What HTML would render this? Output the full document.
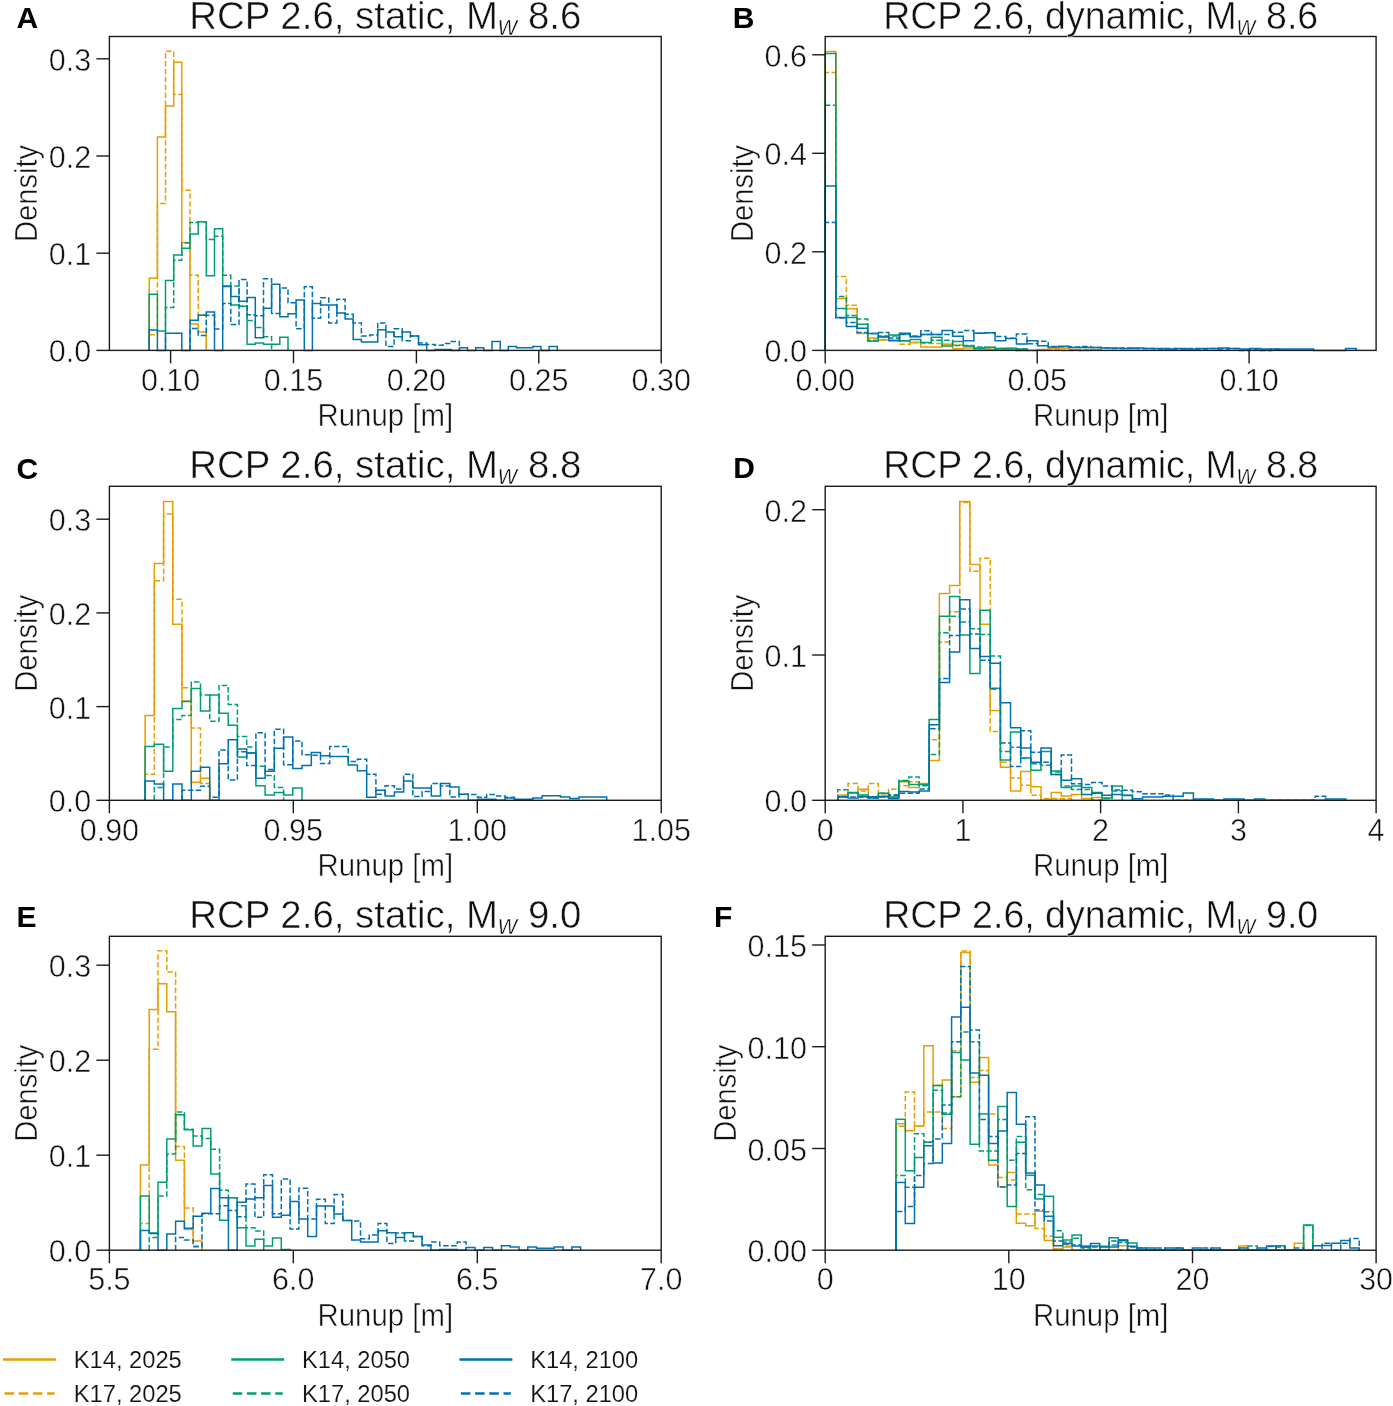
<!DOCTYPE html><html><head><meta charset="utf-8"><style>html,body{margin:0;padding:0;background:#fff;}svg{display:block;will-change:transform;}</style></head><body><svg width="1393" height="1406" viewBox="0 0 1393 1406" font-family="Liberation Sans, sans-serif">
<style>text{stroke:#fff;stroke-width:0.5px;paint-order:normal;} text.leg{stroke-width:0.15px;}</style>
<rect width="1393" height="1406" fill="#fff"/>
<path d="M149.2 350.4 L149.2 278.3 L157.4 278.3 L157.4 136.9 L165.5 136.9 L165.5 105.9 L173.7 105.9 L173.7 62.2 L181.8 62.2 L181.8 242.6 L190 242.6 L190 324 L198.2 324 L198.2 332.1 L206.3 332.1 L206.3 350.4" fill="none" stroke="#E69F00" stroke-width="1.5"/>
<path d="M149.2 350.4 L149.2 334.7 L157.4 334.7 L157.4 203.4 L165.5 203.4 L165.5 51.3 L173.7 51.3 L173.7 94.4 L181.8 94.4 L181.8 190.3 L190 190.3 L190 275.3 L198.2 275.3 L198.2 315 L206.3 315 L206.3 350.4" fill="none" stroke="#E69F00" stroke-width="1.5" stroke-dasharray="5.5 2.4"/>
<path d="M149.2 350.4 L149.2 294.2 L157.4 294.2 L157.4 330.9 L165.5 330.9 L165.5 280.4 L173.7 280.4 L173.7 255.1 L181.8 255.1 L181.8 248.2 L190 248.2 L190 233.9 L198.2 233.9 L198.2 221.8 L206.3 221.8 L206.3 275.8 L214.5 275.8 L214.5 228.7 L222.7 228.7 L222.7 286.1 L230.8 286.1 L230.8 304.9 L239 304.9 L239 306.3 L247.1 306.3 L247.1 344.3 L255.3 344.3 L255.3 342.9 L263.5 342.9 L263.5 344.3 L271.6 344.3 L279.8 344.3 L279.8 337.3 L288 337.3 L288 350.4" fill="none" stroke="#009E73" stroke-width="1.5"/>
<path d="M165.5 350.4 L165.5 307.4 L173.7 307.4 L173.7 260.3 L181.8 260.3 L181.8 243.1 L190 243.1 L190 222.4 L198.2 222.4 L198.2 221.8 L206.3 221.8 L206.3 239.6 L214.5 239.6 L214.5 236.2 L222.7 236.2 L222.7 275.2 L230.8 275.2 L230.8 286.1 L239 286.1 L239 306.2 L247.1 306.2 L247.1 320.6 L255.3 320.6 L255.3 327.5 L263.5 327.5 L263.5 336.7 L271.6 336.7 L271.6 350.4" fill="none" stroke="#009E73" stroke-width="1.5" stroke-dasharray="5.5 2.4"/>
<path d="M149.2 350.4 L149.2 330 L157.4 330 L157.4 350.4 L165.5 350.4 L165.5 333.3 L173.7 333.3 L181.8 333.3 L181.8 350.4 L190 350.4 L190 320.3 L198.2 320.3 L198.2 315.2 L206.3 315.2 L206.3 312 L214.5 312 L214.5 350.4 L222.7 350.4 L222.7 286.6 L230.8 286.6 L230.8 296.5 L239 296.5 L239 301.2 L247.1 301.2 L247.1 297.4 L255.3 297.4 L255.3 337.8 L263.5 337.8 L263.5 308.2 L271.6 308.2 L271.6 284.3 L279.8 284.3 L279.8 316.7 L288 316.7 L288 313.8 L296.1 313.8 L296.1 300 L304.3 300 L304.3 350.4 L312.4 350.4 L312.4 303.4 L320.6 303.4 L320.6 305.1 L328.8 305.1 L336.9 305.1 L336.9 312.9 L345.1 312.9 L345.1 318.9 L353.2 318.9 L353.2 339.6 L361.4 339.6 L361.4 341.9 L369.6 341.9 L377.7 341.9 L377.7 329.8 L385.9 329.8 L385.9 332.1 L394.1 332.1 L394.1 336.7 L402.2 336.7 L402.2 332.1 L410.4 332.1 L410.4 335.9 L418.5 335.9 L418.5 344.8 L426.7 344.8 L426.7 350.4 L434.9 350.4 L434.9 349.4 L443 349.4 L451.2 349.4 L451.2 350.4 L459.4 350.4 L459.4 347.7 L467.5 347.7 L467.5 350.4 L475.7 350.4 L475.7 347.7 L483.8 347.7 L483.8 350.4 L492 350.4 L492 341.4 L500.2 341.4 L500.2 350.4 L508.3 350.4 L508.3 346.5 L516.5 346.5 L516.5 347.7 L524.7 347.7 L532.8 347.7 L532.8 346.5 L541 346.5 L541 350.4 L549.1 350.4 L549.1 346.5 L557.3 346.5 L557.3 350.4" fill="none" stroke="#0072B2" stroke-width="1.5"/>
<path d="M190 350.4 L190 328.6 L198.2 328.6 L198.2 335.6 L206.3 335.6 L206.3 315.2 L214.5 315.2 L214.5 328.9 L222.7 328.9 L222.7 303.5 L230.8 303.5 L230.8 324.6 L239 324.6 L239 279.6 L247.1 279.6 L247.1 314.8 L255.3 314.8 L255.3 315.7 L263.5 315.7 L263.5 278.7 L271.6 278.7 L271.6 313.4 L279.8 313.4 L279.8 288 L288 288 L288 302.7 L296.1 302.7 L296.1 328.8 L304.3 328.8 L304.3 286.8 L312.4 286.8 L312.4 318.3 L320.6 318.3 L320.6 297.7 L328.8 297.7 L328.8 322.9 L336.9 322.9 L336.9 299.2 L345.1 299.2 L345.1 314.3 L353.2 314.3 L353.2 322.9 L361.4 322.9 L361.4 335.9 L369.6 335.9 L369.6 335 L377.7 335 L377.7 322.9 L385.9 322.9 L385.9 346.5 L394.1 346.5 L394.1 328.7 L402.2 328.7 L402.2 340.7 L410.4 340.7 L410.4 335.9 L418.5 335.9 L418.5 343 L426.7 343 L426.7 344.4 L434.9 344.4 L434.9 345.3 L443 345.3 L443 343.6 L451.2 343.6 L451.2 341.4 L459.4 341.4 L459.4 350.4" fill="none" stroke="#0072B2" stroke-width="1.5" stroke-dasharray="5.5 2.4"/>
<rect x="109.4" y="36.5" width="551.8" height="313.9" fill="none" stroke="#1a1a1a" stroke-width="1.4"/>
<line x1="170.6" y1="350.4" x2="170.6" y2="363.4" stroke="#1a1a1a" stroke-width="1.4"/>
<text x="170.6" y="390.6" font-size="31.6" text-anchor="middle" fill="#111" textLength="59.4" lengthAdjust="spacingAndGlyphs">0.10</text>
<line x1="293.5" y1="350.4" x2="293.5" y2="363.4" stroke="#1a1a1a" stroke-width="1.4"/>
<text x="293.5" y="390.6" font-size="31.6" text-anchor="middle" fill="#111" textLength="59.4" lengthAdjust="spacingAndGlyphs">0.15</text>
<line x1="416.4" y1="350.4" x2="416.4" y2="363.4" stroke="#1a1a1a" stroke-width="1.4"/>
<text x="416.4" y="390.6" font-size="31.6" text-anchor="middle" fill="#111" textLength="59.4" lengthAdjust="spacingAndGlyphs">0.20</text>
<line x1="538.8" y1="350.4" x2="538.8" y2="363.4" stroke="#1a1a1a" stroke-width="1.4"/>
<text x="538.8" y="390.6" font-size="31.6" text-anchor="middle" fill="#111" textLength="59.4" lengthAdjust="spacingAndGlyphs">0.25</text>
<line x1="661.2" y1="350.4" x2="661.2" y2="363.4" stroke="#1a1a1a" stroke-width="1.4"/>
<text x="661.2" y="390.6" font-size="31.6" text-anchor="middle" fill="#111" textLength="59.4" lengthAdjust="spacingAndGlyphs">0.30</text>
<line x1="96.4" y1="350.4" x2="109.4" y2="350.4" stroke="#1a1a1a" stroke-width="1.4"/>
<text x="91.2" y="362.4" font-size="31.6" text-anchor="end" fill="#111" textLength="42.4" lengthAdjust="spacingAndGlyphs">0.0</text>
<line x1="96.4" y1="253.2" x2="109.4" y2="253.2" stroke="#1a1a1a" stroke-width="1.4"/>
<text x="91.2" y="265.2" font-size="31.6" text-anchor="end" fill="#111" textLength="42.4" lengthAdjust="spacingAndGlyphs">0.1</text>
<line x1="96.4" y1="156" x2="109.4" y2="156" stroke="#1a1a1a" stroke-width="1.4"/>
<text x="91.2" y="168" font-size="31.6" text-anchor="end" fill="#111" textLength="42.4" lengthAdjust="spacingAndGlyphs">0.2</text>
<line x1="96.4" y1="58.8" x2="109.4" y2="58.8" stroke="#1a1a1a" stroke-width="1.4"/>
<text x="91.2" y="70.8" font-size="31.6" text-anchor="end" fill="#111" textLength="42.4" lengthAdjust="spacingAndGlyphs">0.3</text>
<text x="385.3" y="28.6" font-size="39" text-anchor="middle" fill="#111" textLength="392" lengthAdjust="spacingAndGlyphs">RCP 2.6, static, M<tspan font-size="27" font-style="italic" dy="6">w</tspan><tspan dy="-6"> 8.6</tspan></text>
<text x="385.3" y="426" font-size="31" text-anchor="middle" fill="#111" textLength="135.5" lengthAdjust="spacingAndGlyphs">Runup [m]</text>
<text transform="translate(37.4 193.4) rotate(-90)" x="0" y="0" font-size="31" text-anchor="middle" fill="#111" textLength="97" lengthAdjust="spacingAndGlyphs">Density</text>
<text x="16.6" y="28.2" font-size="30" font-weight="bold" fill="#000" style="stroke:none">A</text>
<path d="M825.2 350.4 L825.2 51.4 L835.8 51.4 L835.8 298.4 L846.4 298.4 L846.4 308.7 L857.1 308.7 L857.1 333.5 L867.7 333.5 L867.7 338 L878.3 338 L878.3 339.9 L888.9 339.9 L888.9 340.2 L899.5 340.2 L899.5 341 L910.2 341 L910.2 342.5 L920.8 342.5 L920.8 347.1 L931.4 347.1 L942 347.1 L942 344.2 L952.6 344.2 L952.6 348.8 L963.3 348.8 L963.3 348 L973.9 348 L973.9 349 L984.5 349 L984.5 349.5 L995.1 349.5 L995.1 348.3 L1005.7 348.3 L1005.7 349.5 L1016.4 349.5 L1016.4 350.4 L1027 350.4 L1037.6 350.4 L1037.6 349.4 L1048.2 349.4 L1048.2 348.3 L1058.8 348.3 L1069.5 348.3 L1069.5 349.4 L1080.1 349.4 L1080.1 350.4 L1090.7 350.4 L1090.7 349.4 L1101.3 349.4 L1101.3 350.4" fill="none" stroke="#E69F00" stroke-width="1.5"/>
<path d="M825.2 350.4 L825.2 72.4 L835.8 72.4 L835.8 276.5 L846.4 276.5 L846.4 305.3 L857.1 305.3 L857.1 333 L867.7 333 L867.7 339 L878.3 339 L878.3 339.5 L888.9 339.5 L888.9 340 L899.5 340 L899.5 344.2 L910.2 344.2 L910.2 342.5 L920.8 342.5 L920.8 343.6 L931.4 343.6 L942 343.6 L942 344.5 L952.6 344.5 L952.6 345 L963.3 345 L963.3 346 L973.9 346 L973.9 348 L984.5 348 L984.5 349 L995.1 349 L1005.7 349 L1005.7 349.5 L1016.4 349.5 L1016.4 350.4 L1027 350.4 L1037.6 350.4 L1048.2 350.4 L1048.2 349 L1058.8 349 L1058.8 350.4 L1069.5 350.4 L1080.1 350.4 L1080.1 349.4 L1090.7 349.4 L1090.7 350.4" fill="none" stroke="#E69F00" stroke-width="1.5" stroke-dasharray="5.5 2.4"/>
<path d="M825.2 350.4 L825.2 53.4 L835.8 53.4 L835.8 308.5 L846.4 308.5 L846.4 317.4 L857.1 317.4 L857.1 324.3 L867.7 324.3 L867.7 341 L878.3 341 L878.3 336.4 L888.9 336.4 L888.9 335 L899.5 335 L899.5 340.8 L910.2 340.8 L910.2 339.6 L920.8 339.6 L920.8 342.5 L931.4 342.5 L931.4 337.3 L942 337.3 L942 346 L952.6 346 L952.6 341.4 L963.3 341.4 L963.3 346 L973.9 346 L973.9 348.2 L984.5 348.2 L984.5 347.3 L995.1 347.3 L995.1 348.7 L1005.7 348.7 L1005.7 348.3 L1016.4 348.3 L1016.4 349 L1027 349 L1027 350.4" fill="none" stroke="#009E73" stroke-width="1.5"/>
<path d="M825.2 350.4 L825.2 105.2 L835.8 105.2 L835.8 296.6 L846.4 296.6 L846.4 315.6 L857.1 315.6 L857.1 319.1 L867.7 319.1 L867.7 341 L878.3 341 L878.3 336 L888.9 336 L899.5 336 L899.5 334 L910.2 334 L910.2 336 L920.8 336 L920.8 334.5 L931.4 334.5 L931.4 340.2 L942 340.2 L952.6 340.2 L952.6 345.4 L963.3 345.4 L963.3 345.5 L973.9 345.5 L973.9 347 L984.5 347 L984.5 347.5 L995.1 347.5 L995.1 348.5 L1005.7 348.5 L1016.4 348.5 L1016.4 349 L1027 349 L1027 350.4" fill="none" stroke="#009E73" stroke-width="1.5" stroke-dasharray="5.5 2.4"/>
<path d="M825.2 350.4 L825.2 186 L835.8 186 L835.8 317.4 L846.4 317.4 L846.4 326.6 L857.1 326.6 L857.1 328.3 L867.7 328.3 L867.7 333.5 L878.3 333.5 L878.3 337 L888.9 337 L888.9 340.8 L899.5 340.8 L899.5 333.3 L910.2 333.3 L910.2 336.8 L920.8 336.8 L920.8 334.5 L931.4 334.5 L942 334.5 L942 330.4 L952.6 330.4 L952.6 336.2 L963.3 336.2 L963.3 340.8 L973.9 340.8 L973.9 333.3 L984.5 333.3 L984.5 332.7 L995.1 332.7 L995.1 340.8 L1005.7 340.8 L1005.7 338.6 L1016.4 338.6 L1016.4 344 L1027 344 L1027 340.8 L1037.6 340.8 L1037.6 345.8 L1048.2 345.8 L1048.2 346.9 L1058.8 346.9 L1058.8 346.2 L1069.5 346.2 L1069.5 347.6 L1080.1 347.6 L1080.1 347.5 L1090.7 347.5 L1101.3 347.5 L1101.3 348 L1111.9 348 L1122.6 348 L1122.6 348.5 L1133.2 348.5 L1133.2 348 L1143.8 348 L1143.8 348.5 L1154.4 348.5 L1165 348.5 L1165 349 L1175.7 349 L1175.7 348.5 L1186.3 348.5 L1186.3 349 L1196.9 349 L1196.9 348.5 L1207.5 348.5 L1218.1 348.5 L1218.1 348 L1228.8 348 L1228.8 348.5 L1239.4 348.5 L1239.4 349 L1250 349 L1250 348.5 L1260.6 348.5 L1260.6 349 L1271.2 349 L1281.9 349 L1292.5 349 L1303.1 349 L1313.7 349 L1313.7 350.4 L1324.3 350.4 L1335 350.4 L1345.6 350.4 L1345.6 348.5 L1356.2 348.5 L1356.2 350.4" fill="none" stroke="#0072B2" stroke-width="1.5"/>
<path d="M825.2 350.4 L825.2 222.6 L835.8 222.6 L835.8 318 L846.4 318 L846.4 322.6 L857.1 322.6 L857.1 332.4 L867.7 332.4 L867.7 333.5 L878.3 333.5 L878.3 332.4 L888.9 332.4 L888.9 337.9 L899.5 337.9 L899.5 334.5 L910.2 334.5 L910.2 336.5 L920.8 336.5 L920.8 330.8 L931.4 330.8 L931.4 334.5 L942 334.5 L952.6 334.5 L952.6 332.2 L963.3 332.2 L963.3 330.4 L973.9 330.4 L973.9 333.3 L984.5 333.3 L984.5 332.7 L995.1 332.7 L995.1 336.5 L1005.7 336.5 L1005.7 338.3 L1016.4 338.3 L1016.4 334 L1027 334 L1027 343.7 L1037.6 343.7 L1037.6 341.2 L1048.2 341.2 L1048.2 346.5 L1058.8 346.5 L1058.8 346.8 L1069.5 346.8 L1069.5 347 L1080.1 347 L1080.1 346.5 L1090.7 346.5 L1090.7 347.5 L1101.3 347.5 L1101.3 348 L1111.9 348 L1111.9 348.5 L1122.6 348.5 L1122.6 348 L1133.2 348 L1133.2 348.5 L1143.8 348.5 L1154.4 348.5 L1154.4 349 L1165 349 L1165 348.5 L1175.7 348.5 L1175.7 349 L1186.3 349 L1186.3 348.5 L1196.9 348.5 L1196.9 349 L1207.5 349 L1207.5 348.5 L1218.1 348.5 L1218.1 349 L1228.8 349 L1228.8 348.5 L1239.4 348.5 L1239.4 350.4 L1250 350.4 L1250 349 L1260.6 349 L1260.6 350.4 L1271.2 350.4 L1271.2 349 L1281.9 349 L1281.9 350.4" fill="none" stroke="#0072B2" stroke-width="1.5" stroke-dasharray="5.5 2.4"/>
<rect x="825.2" y="36.5" width="550.9" height="313.9" fill="none" stroke="#1a1a1a" stroke-width="1.4"/>
<line x1="825.2" y1="350.4" x2="825.2" y2="363.4" stroke="#1a1a1a" stroke-width="1.4"/>
<text x="825.2" y="390.6" font-size="31.6" text-anchor="middle" fill="#111" textLength="59.4" lengthAdjust="spacingAndGlyphs">0.00</text>
<line x1="1037.2" y1="350.4" x2="1037.2" y2="363.4" stroke="#1a1a1a" stroke-width="1.4"/>
<text x="1037.2" y="390.6" font-size="31.6" text-anchor="middle" fill="#111" textLength="59.4" lengthAdjust="spacingAndGlyphs">0.05</text>
<line x1="1249.1" y1="350.4" x2="1249.1" y2="363.4" stroke="#1a1a1a" stroke-width="1.4"/>
<text x="1249.1" y="390.6" font-size="31.6" text-anchor="middle" fill="#111" textLength="59.4" lengthAdjust="spacingAndGlyphs">0.10</text>
<line x1="812.2" y1="350.4" x2="825.2" y2="350.4" stroke="#1a1a1a" stroke-width="1.4"/>
<text x="807" y="362.4" font-size="31.6" text-anchor="end" fill="#111" textLength="42.4" lengthAdjust="spacingAndGlyphs">0.0</text>
<line x1="812.2" y1="251.8" x2="825.2" y2="251.8" stroke="#1a1a1a" stroke-width="1.4"/>
<text x="807" y="263.8" font-size="31.6" text-anchor="end" fill="#111" textLength="42.4" lengthAdjust="spacingAndGlyphs">0.2</text>
<line x1="812.2" y1="153.3" x2="825.2" y2="153.3" stroke="#1a1a1a" stroke-width="1.4"/>
<text x="807" y="165.3" font-size="31.6" text-anchor="end" fill="#111" textLength="42.4" lengthAdjust="spacingAndGlyphs">0.4</text>
<line x1="812.2" y1="54.8" x2="825.2" y2="54.8" stroke="#1a1a1a" stroke-width="1.4"/>
<text x="807" y="66.8" font-size="31.6" text-anchor="end" fill="#111" textLength="42.4" lengthAdjust="spacingAndGlyphs">0.6</text>
<text x="1100.7" y="28.6" font-size="39" text-anchor="middle" fill="#111" textLength="435" lengthAdjust="spacingAndGlyphs">RCP 2.6, dynamic, M<tspan font-size="27" font-style="italic" dy="6">w</tspan><tspan dy="-6"> 8.6</tspan></text>
<text x="1100.7" y="426" font-size="31" text-anchor="middle" fill="#111" textLength="135.5" lengthAdjust="spacingAndGlyphs">Runup [m]</text>
<text transform="translate(753.2 193.4) rotate(-90)" x="0" y="0" font-size="31" text-anchor="middle" fill="#111" textLength="97" lengthAdjust="spacingAndGlyphs">Density</text>
<text x="732.8" y="28.2" font-size="30" font-weight="bold" fill="#000" style="stroke:none">B</text>
<path d="M145.1 800.3 L145.1 715.5 L154.3 715.5 L154.3 563.4 L163.6 563.4 L163.6 501.4 L172.8 501.4 L172.8 624.3 L182 624.3 L182 701.1 L191.3 701.1 L191.3 782.3 L200.5 782.3 L200.5 778.2 L209.7 778.2 L209.7 800.3" fill="none" stroke="#E69F00" stroke-width="1.5"/>
<path d="M145.1 800.3 L145.1 774.2 L154.3 774.2 L154.3 580.7 L163.6 580.7 L163.6 513.9 L172.8 513.9 L172.8 599.2 L182 599.2 L182 687.8 L191.3 687.8 L191.3 728.1 L200.5 728.1 L200.5 783.4 L209.7 783.4 L209.7 800.3" fill="none" stroke="#E69F00" stroke-width="1.5" stroke-dasharray="5.5 2.4"/>
<path d="M145.1 800.3 L145.1 746.6 L154.3 746.6 L154.3 744.3 L163.6 744.3 L163.6 771.3 L172.8 771.3 L172.8 708.5 L182 708.5 L182 701.6 L191.3 701.6 L191.3 688.4 L200.5 688.4 L200.5 710.9 L209.7 710.9 L209.7 695.1 L219 695.1 L219 713.2 L228.2 713.2 L228.2 725.3 L237.4 725.3 L237.4 756.9 L246.7 756.9 L246.7 752.9 L255.9 752.9 L255.9 785.7 L265.1 785.7 L265.1 795 L274.3 795 L274.3 792.6 L283.6 792.6 L283.6 795 L292.8 795 L292.8 788 L302 788 L302 800.3" fill="none" stroke="#009E73" stroke-width="1.5"/>
<path d="M154.3 800.3 L154.3 787.5 L163.6 787.5 L163.6 747.1 L172.8 747.1 L172.8 719.5 L182 719.5 L182 715.5 L191.3 715.5 L191.3 682 L200.5 682 L200.5 695.1 L209.7 695.1 L209.7 721.2 L219 721.2 L219 685.5 L228.2 685.5 L228.2 704.5 L237.4 704.5 L237.4 736.5 L246.7 736.5 L246.7 747.1 L255.9 747.1 L255.9 766.2 L265.1 766.2 L265.1 775.4 L274.3 775.4 L274.3 787.5 L283.6 787.5 L283.6 800.3" fill="none" stroke="#009E73" stroke-width="1.5" stroke-dasharray="5.5 2.4"/>
<path d="M145.1 800.3 L145.1 781.1 L154.3 781.1 L154.3 784 L163.6 784 L163.6 800.3 L172.8 800.3 L172.8 784 L182 784 L182 800.3 L191.3 800.3 L191.3 771.3 L200.5 771.3 L200.5 767.3 L209.7 767.3 L209.7 800.3 L219 800.3 L219 763.8 L228.2 763.8 L228.2 739.7 L237.4 739.7 L237.4 748.9 L246.7 748.9 L246.7 752.9 L255.9 752.9 L255.9 778.2 L265.1 778.2 L265.1 771.3 L274.3 771.3 L274.3 748.3 L283.6 748.3 L283.6 737.1 L292.8 737.1 L292.8 768.4 L302 768.4 L302 765.6 L311.3 765.6 L311.3 752.4 L320.5 752.4 L320.5 755.8 L329.7 755.8 L329.7 756.4 L339 756.4 L348.2 756.4 L348.2 765 L357.4 765 L357.4 770.7 L366.7 770.7 L366.7 797.2 L375.9 797.2 L375.9 790.3 L385.1 790.3 L385.1 796 L394.4 796 L394.4 792 L403.6 792 L403.6 780.9 L412.8 780.9 L412.8 788 L422.1 788 L431.3 788 L431.3 796 L440.5 796 L440.5 783.6 L449.8 783.6 L449.8 787.1 L459 787.1 L459 794.3 L468.2 794.3 L468.2 800.3 L477.5 800.3 L477.5 799.3 L486.7 799.3 L495.9 799.3 L495.9 800.3 L505.1 800.3 L505.1 798 L514.4 798 L514.4 799.3 L523.6 799.3 L532.8 799.3 L532.8 798 L542.1 798 L542.1 795.7 L551.3 795.7 L560.5 795.7 L560.5 797 L569.8 797 L569.8 798.4 L579 798.4 L579 797 L588.2 797 L597.5 797 L606.7 797 L606.7 800.3" fill="none" stroke="#0072B2" stroke-width="1.5"/>
<path d="M182 800.3 L182 790.3 L191.3 790.3 L200.5 790.3 L200.5 786.3 L209.7 786.3 L209.7 797.3 L219 797.3 L219 750 L228.2 750 L228.2 780 L237.4 780 L237.4 751.8 L246.7 751.8 L246.7 765.6 L255.9 765.6 L255.9 732.7 L265.1 732.7 L265.1 769.6 L274.3 769.6 L274.3 729.3 L283.6 729.3 L283.6 764.7 L292.8 764.7 L292.8 740.9 L302 740.9 L302 754.7 L311.3 754.7 L311.3 755.2 L320.5 755.2 L320.5 763.6 L329.7 763.6 L329.7 746.4 L339 746.4 L348.2 746.4 L348.2 761.6 L357.4 761.6 L357.4 759.3 L366.7 759.3 L366.7 774.2 L375.9 774.2 L375.9 794.3 L385.1 794.3 L385.1 785.7 L394.4 785.7 L394.4 789.1 L403.6 789.1 L403.6 774.2 L412.8 774.2 L412.8 796.6 L422.1 796.6 L422.1 791.4 L431.3 791.4 L431.3 783.4 L440.5 783.4 L440.5 786 L449.8 786 L449.8 797 L459 797 L459 794.3 L468.2 794.3 L468.2 794.6 L477.5 794.6 L477.5 797.3 L486.7 797.3 L486.7 794.6 L495.9 794.6 L495.9 796 L505.1 796 L505.1 797.3 L514.4 797.3 L514.4 800.3" fill="none" stroke="#0072B2" stroke-width="1.5" stroke-dasharray="5.5 2.4"/>
<rect x="109.4" y="486.3" width="551.8" height="314" fill="none" stroke="#1a1a1a" stroke-width="1.4"/>
<line x1="109.4" y1="800.3" x2="109.4" y2="813.3" stroke="#1a1a1a" stroke-width="1.4"/>
<text x="109.4" y="840.5" font-size="31.6" text-anchor="middle" fill="#111" textLength="59.4" lengthAdjust="spacingAndGlyphs">0.90</text>
<line x1="293.3" y1="800.3" x2="293.3" y2="813.3" stroke="#1a1a1a" stroke-width="1.4"/>
<text x="293.3" y="840.5" font-size="31.6" text-anchor="middle" fill="#111" textLength="59.4" lengthAdjust="spacingAndGlyphs">0.95</text>
<line x1="477.3" y1="800.3" x2="477.3" y2="813.3" stroke="#1a1a1a" stroke-width="1.4"/>
<text x="477.3" y="840.5" font-size="31.6" text-anchor="middle" fill="#111" textLength="59.4" lengthAdjust="spacingAndGlyphs">1.00</text>
<line x1="661.2" y1="800.3" x2="661.2" y2="813.3" stroke="#1a1a1a" stroke-width="1.4"/>
<text x="661.2" y="840.5" font-size="31.6" text-anchor="middle" fill="#111" textLength="59.4" lengthAdjust="spacingAndGlyphs">1.05</text>
<line x1="96.4" y1="800.3" x2="109.4" y2="800.3" stroke="#1a1a1a" stroke-width="1.4"/>
<text x="91.2" y="812.3" font-size="31.6" text-anchor="end" fill="#111" textLength="42.4" lengthAdjust="spacingAndGlyphs">0.0</text>
<line x1="96.4" y1="706.6" x2="109.4" y2="706.6" stroke="#1a1a1a" stroke-width="1.4"/>
<text x="91.2" y="718.6" font-size="31.6" text-anchor="end" fill="#111" textLength="42.4" lengthAdjust="spacingAndGlyphs">0.1</text>
<line x1="96.4" y1="612.9" x2="109.4" y2="612.9" stroke="#1a1a1a" stroke-width="1.4"/>
<text x="91.2" y="624.9" font-size="31.6" text-anchor="end" fill="#111" textLength="42.4" lengthAdjust="spacingAndGlyphs">0.2</text>
<line x1="96.4" y1="519.2" x2="109.4" y2="519.2" stroke="#1a1a1a" stroke-width="1.4"/>
<text x="91.2" y="531.2" font-size="31.6" text-anchor="end" fill="#111" textLength="42.4" lengthAdjust="spacingAndGlyphs">0.3</text>
<text x="385.3" y="478.4" font-size="39" text-anchor="middle" fill="#111" textLength="392" lengthAdjust="spacingAndGlyphs">RCP 2.6, static, M<tspan font-size="27" font-style="italic" dy="6">w</tspan><tspan dy="-6"> 8.8</tspan></text>
<text x="385.3" y="875.9" font-size="31" text-anchor="middle" fill="#111" textLength="135.5" lengthAdjust="spacingAndGlyphs">Runup [m]</text>
<text transform="translate(37.4 643.3) rotate(-90)" x="0" y="0" font-size="31" text-anchor="middle" fill="#111" textLength="97" lengthAdjust="spacingAndGlyphs">Density</text>
<text x="16.6" y="478.5" font-size="30" font-weight="bold" fill="#000" style="stroke:none">C</text>
<path d="M837.8 800.3 L837.8 795 L848 795 L848 793 L858.1 793 L858.1 789.2 L868.3 789.2 L868.3 797 L878.4 797 L878.4 796 L888.6 796 L888.6 796.7 L898.8 796.7 L898.8 781.7 L908.9 781.7 L908.9 787.5 L919.1 787.5 L919.1 783.4 L929.2 783.4 L929.2 760.4 L939.4 760.4 L939.4 593.5 L949.6 593.5 L949.6 585.6 L959.7 585.6 L959.7 501.4 L969.9 501.4 L969.9 564.5 L980 564.5 L980 624.2 L990.2 624.2 L990.2 710.6 L1000.4 710.6 L1000.4 767.3 L1010.5 767.3 L1010.5 791 L1020.7 791 L1020.7 771.6 L1030.8 771.6 L1030.8 786.7 L1041 786.7 L1041 800.3 L1051.2 800.3 L1051.2 792.5 L1061.3 792.5 L1061.3 796 L1071.5 796 L1071.5 794.6 L1081.6 794.6 L1081.6 798.5 L1091.8 798.5 L1091.8 797.5 L1102 797.5 L1102 800.3" fill="none" stroke="#E69F00" stroke-width="1.5"/>
<path d="M837.8 800.3 L837.8 796 L848 796 L848 783.4 L858.1 783.4 L858.1 791 L868.3 791 L868.3 783.4 L878.4 783.4 L878.4 795 L888.6 795 L888.6 789.2 L898.8 789.2 L898.8 785.7 L908.9 785.7 L908.9 781.7 L919.1 781.7 L919.1 784 L929.2 784 L929.2 739.7 L939.4 739.7 L939.4 641.9 L949.6 641.9 L949.6 611.7 L959.7 611.7 L959.7 502.5 L969.9 502.5 L969.9 571.3 L980 571.3 L980 558.3 L990.2 558.3 L990.2 731.4 L1000.4 731.4 L1000.4 762.3 L1010.5 762.3 L1010.5 778.1 L1020.7 778.1 L1020.7 785.3 L1030.8 785.3 L1030.8 795.3 L1041 795.3 L1041 798.5 L1051.2 798.5 L1061.3 798.5 L1071.5 798.5 L1071.5 800.3" fill="none" stroke="#E69F00" stroke-width="1.5" stroke-dasharray="5.5 2.4"/>
<path d="M837.8 800.3 L837.8 796.7 L848 796.7 L848 792.6 L858.1 792.6 L858.1 795 L868.3 795 L868.3 798 L878.4 798 L878.4 793.2 L888.6 793.2 L888.6 797 L898.8 797 L898.8 781 L908.9 781 L908.9 784.6 L919.1 784.6 L929.2 784.6 L929.2 719.5 L939.4 719.5 L939.4 616.3 L949.6 616.3 L949.6 596.4 L959.7 596.4 L959.7 635 L969.9 635 L969.9 673.4 L980 673.4 L980 610.3 L990.2 610.3 L990.2 688.3 L1000.4 688.3 L1000.4 760.1 L1010.5 760.1 L1010.5 732.1 L1020.7 732.1 L1020.7 758 L1030.8 758 L1030.8 770.2 L1041 770.2 L1041 751.5 L1051.2 751.5 L1051.2 770.9 L1061.3 770.9 L1061.3 787.4 L1071.5 787.4 L1071.5 786 L1081.6 786 L1081.6 787.4 L1091.8 787.4 L1091.8 792.5 L1102 792.5 L1102 798 L1112.1 798 L1112.1 786 L1122.3 786 L1122.3 795.3 L1132.4 795.3 L1132.4 800.3" fill="none" stroke="#009E73" stroke-width="1.5"/>
<path d="M837.8 800.3 L837.8 789.8 L848 789.8 L848 793 L858.1 793 L858.1 796 L868.3 796 L868.3 797 L878.4 797 L878.4 793.2 L888.6 793.2 L888.6 795 L898.8 795 L898.8 780.5 L908.9 780.5 L908.9 777.1 L919.1 777.1 L919.1 785.7 L929.2 785.7 L929.2 754.6 L939.4 754.6 L939.4 632.8 L949.6 632.8 L949.6 616.3 L959.7 616.3 L959.7 622 L969.9 622 L969.9 628.8 L980 628.8 L980 634.5 L990.2 634.5 L990.2 656 L1000.4 656 L1000.4 751.5 L1010.5 751.5 L1010.5 747.2 L1020.7 747.2 L1020.7 758 L1030.8 758 L1030.8 763.7 L1041 763.7 L1041 765.2 L1051.2 765.2 L1051.2 772 L1061.3 772 L1061.3 786 L1071.5 786 L1071.5 789.6 L1081.6 789.6 L1091.8 789.6 L1091.8 800.3 L1102 800.3 L1102 798.5 L1112.1 798.5 L1112.1 791 L1122.3 791 L1122.3 800.3" fill="none" stroke="#009E73" stroke-width="1.5" stroke-dasharray="5.5 2.4"/>
<path d="M837.8 800.3 L837.8 796.7 L848 796.7 L848 798 L858.1 798 L858.1 796.7 L868.3 796.7 L878.4 796.7 L888.6 796.7 L888.6 798.4 L898.8 798.4 L898.8 791.5 L908.9 791.5 L908.9 792.1 L919.1 792.1 L919.1 790.9 L929.2 790.9 L929.2 724.7 L939.4 724.7 L939.4 682.6 L949.6 682.6 L949.6 652.1 L959.7 652.1 L959.7 599.8 L969.9 599.8 L969.9 648.4 L980 648.4 L980 656.4 L990.2 656.4 L990.2 663.2 L1000.4 663.2 L1000.4 702.7 L1010.5 702.7 L1010.5 727.8 L1020.7 727.8 L1020.7 747.9 L1030.8 747.9 L1030.8 762.3 L1041 762.3 L1041 747.9 L1051.2 747.9 L1051.2 774.5 L1061.3 774.5 L1061.3 780.2 L1071.5 780.2 L1071.5 778.8 L1081.6 778.8 L1081.6 794.6 L1091.8 794.6 L1091.8 793.2 L1102 793.2 L1102 795.3 L1112.1 795.3 L1112.1 794.6 L1122.3 794.6 L1122.3 795.5 L1132.4 795.5 L1132.4 798.8 L1142.6 798.8 L1142.6 797.1 L1152.8 797.1 L1162.9 797.1 L1162.9 796.3 L1173.1 796.3 L1183.2 796.3 L1183.2 793 L1193.4 793 L1193.4 799 L1203.6 799 L1213.7 799 L1213.7 800.3 L1223.9 800.3 L1223.9 799 L1234 799 L1244.2 799 L1244.2 800.3 L1254.4 800.3 L1254.4 799 L1264.5 799 L1264.5 800.3 L1274.7 800.3 L1284.8 800.3 L1295 800.3 L1305.2 800.3 L1315.3 800.3 L1325.5 800.3 L1325.5 799 L1335.6 799 L1345.8 799 L1345.8 800.3" fill="none" stroke="#0072B2" stroke-width="1.5"/>
<path d="M837.8 800.3 L837.8 797 L848 797 L858.1 797 L868.3 797 L868.3 798 L878.4 798 L878.4 797 L888.6 797 L888.6 795 L898.8 795 L898.8 793.2 L908.9 793.2 L919.1 793.2 L919.1 789 L929.2 789 L929.2 728.7 L939.4 728.7 L939.4 678.6 L949.6 678.6 L949.6 635.6 L959.7 635.6 L959.7 608.9 L969.9 608.9 L969.9 633.9 L980 633.9 L980 660.3 L990.2 660.3 L990.2 689 L1000.4 689 L1000.4 742.9 L1010.5 742.9 L1010.5 766.6 L1020.7 766.6 L1020.7 730.7 L1030.8 730.7 L1030.8 752.2 L1041 752.2 L1041 762.3 L1051.2 762.3 L1051.2 774.5 L1061.3 774.5 L1061.3 755.1 L1071.5 755.1 L1071.5 783.8 L1081.6 783.8 L1081.6 784.6 L1091.8 784.6 L1091.8 782.4 L1102 782.4 L1102 786 L1112.1 786 L1112.1 790 L1122.3 790 L1122.3 790.3 L1132.4 790.3 L1132.4 791.7 L1142.6 791.7 L1142.6 793.8 L1152.8 793.8 L1162.9 793.8 L1162.9 795 L1173.1 795 L1173.1 800.3 L1183.2 800.3 L1193.4 800.3 L1203.6 800.3 L1213.7 800.3 L1223.9 800.3 L1234 800.3 L1244.2 800.3 L1254.4 800.3 L1264.5 800.3 L1274.7 800.3 L1284.8 800.3 L1295 800.3 L1305.2 800.3 L1315.3 800.3 L1315.3 796.3 L1325.5 796.3 L1325.5 800.3" fill="none" stroke="#0072B2" stroke-width="1.5" stroke-dasharray="5.5 2.4"/>
<rect x="825.2" y="486.3" width="550.9" height="314" fill="none" stroke="#1a1a1a" stroke-width="1.4"/>
<line x1="825.2" y1="800.3" x2="825.2" y2="813.3" stroke="#1a1a1a" stroke-width="1.4"/>
<text x="825.2" y="840.5" font-size="31.6" text-anchor="middle" fill="#111" textLength="17" lengthAdjust="spacingAndGlyphs">0</text>
<line x1="962.9" y1="800.3" x2="962.9" y2="813.3" stroke="#1a1a1a" stroke-width="1.4"/>
<text x="962.9" y="840.5" font-size="31.6" text-anchor="middle" fill="#111" textLength="17" lengthAdjust="spacingAndGlyphs">1</text>
<line x1="1100.6" y1="800.3" x2="1100.6" y2="813.3" stroke="#1a1a1a" stroke-width="1.4"/>
<text x="1100.6" y="840.5" font-size="31.6" text-anchor="middle" fill="#111" textLength="17" lengthAdjust="spacingAndGlyphs">2</text>
<line x1="1238.4" y1="800.3" x2="1238.4" y2="813.3" stroke="#1a1a1a" stroke-width="1.4"/>
<text x="1238.4" y="840.5" font-size="31.6" text-anchor="middle" fill="#111" textLength="17" lengthAdjust="spacingAndGlyphs">3</text>
<line x1="1376.1" y1="800.3" x2="1376.1" y2="813.3" stroke="#1a1a1a" stroke-width="1.4"/>
<text x="1376.1" y="840.5" font-size="31.6" text-anchor="middle" fill="#111" textLength="17" lengthAdjust="spacingAndGlyphs">4</text>
<line x1="812.2" y1="800.3" x2="825.2" y2="800.3" stroke="#1a1a1a" stroke-width="1.4"/>
<text x="807" y="812.3" font-size="31.6" text-anchor="end" fill="#111" textLength="42.4" lengthAdjust="spacingAndGlyphs">0.0</text>
<line x1="812.2" y1="655" x2="825.2" y2="655" stroke="#1a1a1a" stroke-width="1.4"/>
<text x="807" y="667" font-size="31.6" text-anchor="end" fill="#111" textLength="42.4" lengthAdjust="spacingAndGlyphs">0.1</text>
<line x1="812.2" y1="509.7" x2="825.2" y2="509.7" stroke="#1a1a1a" stroke-width="1.4"/>
<text x="807" y="521.7" font-size="31.6" text-anchor="end" fill="#111" textLength="42.4" lengthAdjust="spacingAndGlyphs">0.2</text>
<text x="1100.7" y="478.4" font-size="39" text-anchor="middle" fill="#111" textLength="435" lengthAdjust="spacingAndGlyphs">RCP 2.6, dynamic, M<tspan font-size="27" font-style="italic" dy="6">w</tspan><tspan dy="-6"> 8.8</tspan></text>
<text x="1100.7" y="875.9" font-size="31" text-anchor="middle" fill="#111" textLength="135.5" lengthAdjust="spacingAndGlyphs">Runup [m]</text>
<text transform="translate(753.2 643.3) rotate(-90)" x="0" y="0" font-size="31" text-anchor="middle" fill="#111" textLength="97" lengthAdjust="spacingAndGlyphs">Density</text>
<text x="733.2" y="478.2" font-size="30" font-weight="bold" fill="#000" style="stroke:none">D</text>
<path d="M140.4 1250.2 L140.4 1164.9 L149.2 1164.9 L149.2 1009.4 L158 1009.4 L158 983.8 L166.8 983.8 L166.8 1011.7 L175.6 1011.7 L175.6 1160.3 L184.4 1160.3 L184.4 1229.4 L193.2 1229.4 L193.2 1240.9 L202 1240.9 L202 1250.2" fill="none" stroke="#E69F00" stroke-width="1.5"/>
<path d="M140.4 1250.2 L140.4 1223.6 L149.2 1223.6 L149.2 1049.2 L158 1049.2 L158 950.8 L166.8 950.8 L166.8 971.9 L175.6 971.9 L175.6 1146.5 L184.4 1146.5 L184.4 1208.1 L193.2 1208.1 L193.2 1246.1 L202 1246.1 L202 1250.2" fill="none" stroke="#E69F00" stroke-width="1.5" stroke-dasharray="5.5 2.4"/>
<path d="M140.4 1250.2 L140.4 1196 L149.2 1196 L149.2 1232.9 L158 1232.9 L158 1182.2 L166.8 1182.2 L166.8 1139 L175.6 1139 L175.6 1114.8 L184.4 1114.8 L184.4 1129.7 L193.2 1129.7 L193.2 1145.9 L202 1145.9 L202 1128.6 L210.8 1128.6 L210.8 1174.1 L219.6 1174.1 L219.6 1220.2 L228.4 1220.2 L228.4 1197.7 L237.2 1197.7 L237.2 1227.7 L246 1227.7 L246 1246.1 L254.9 1246.1 L254.9 1239.2 L263.7 1239.2 L263.7 1246.1 L272.5 1246.1 L272.5 1238 L281.3 1238 L281.3 1249.6 L290.1 1249.6 L290.1 1250.2" fill="none" stroke="#009E73" stroke-width="1.5"/>
<path d="M149.2 1250.2 L149.2 1237.5 L158 1237.5 L158 1196 L166.8 1196 L166.8 1153.9 L175.6 1153.9 L175.6 1111.9 L184.4 1111.9 L184.4 1129.2 L193.2 1129.2 L193.2 1136.1 L202 1136.1 L202 1138.4 L210.8 1138.4 L210.8 1149.3 L219.6 1149.3 L219.6 1190.2 L228.4 1190.2 L228.4 1197.7 L237.2 1197.7 L237.2 1205.8 L246 1205.8 L246 1227.7 L254.9 1227.7 L254.9 1231.1 L263.7 1231.1 L263.7 1250.2" fill="none" stroke="#009E73" stroke-width="1.5" stroke-dasharray="5.5 2.4"/>
<path d="M140.4 1250.2 L140.4 1230.6 L149.2 1230.6 L149.2 1233.4 L158 1233.4 L158 1250.2 L166.8 1250.2 L166.8 1234 L175.6 1234 L175.6 1221.3 L184.4 1221.3 L184.4 1228.2 L193.2 1228.2 L193.2 1216.2 L202 1216.2 L202 1213.3 L210.8 1213.3 L210.8 1188.5 L219.6 1188.5 L219.6 1197.7 L228.4 1197.7 L228.4 1250.2 L237.2 1250.2 L237.2 1202.3 L246 1202.3 L246 1198.9 L254.9 1198.9 L254.9 1197.7 L263.7 1197.7 L263.7 1185.6 L272.5 1185.6 L272.5 1217.3 L281.3 1217.3 L281.3 1215.2 L290.1 1215.2 L290.1 1201.5 L298.9 1201.5 L298.9 1219 L307.7 1219 L307.7 1236.5 L316.5 1236.5 L316.5 1206 L325.3 1206 L334.1 1206 L334.1 1214.1 L342.9 1214.1 L342.9 1220.4 L351.7 1220.4 L351.7 1239.9 L360.5 1239.9 L360.5 1242 L369.3 1242 L378.1 1242 L378.1 1230.7 L386.9 1230.7 L386.9 1232.8 L395.7 1232.8 L395.7 1237.4 L404.5 1237.4 L404.5 1232.8 L413.3 1232.8 L413.3 1236.5 L422.1 1236.5 L422.1 1245.1 L430.9 1245.1 L430.9 1250.2 L439.7 1250.2 L439.7 1249.4 L448.5 1249.4 L457.3 1249.4 L457.3 1250.2 L466.1 1250.2 L466.1 1247.6 L475 1247.6 L475 1250.2 L483.8 1250.2 L483.8 1247.6 L492.6 1247.6 L492.6 1250.2 L501.4 1250.2 L501.4 1245.8 L510.2 1245.8 L510.2 1247 L519 1247 L519 1250.2 L527.8 1250.2 L527.8 1247 L536.6 1247 L536.6 1248.2 L545.4 1248.2 L554.2 1248.2 L554.2 1247 L563 1247 L563 1250.2 L571.8 1250.2 L571.8 1247 L580.6 1247 L580.6 1250.2" fill="none" stroke="#0072B2" stroke-width="1.5"/>
<path d="M175.6 1250.2 L175.6 1237.5 L184.4 1237.5 L184.4 1240 L193.2 1240 L193.2 1246.7 L202 1246.7 L202 1213.8 L210.8 1213.8 L219.6 1213.8 L219.6 1205.8 L228.4 1205.8 L228.4 1210.4 L237.2 1210.4 L237.2 1216.7 L246 1216.7 L246 1183.9 L254.9 1183.9 L254.9 1217.3 L263.7 1217.3 L263.7 1174.7 L272.5 1174.7 L272.5 1213.8 L281.3 1213.8 L281.3 1179.1 L290.1 1179.1 L290.1 1229 L298.9 1229 L298.9 1188.2 L307.7 1188.2 L307.7 1219 L316.5 1219 L316.5 1199.2 L325.3 1199.2 L325.3 1223.6 L334.1 1223.6 L334.1 1194.6 L342.9 1194.6 L342.9 1220.4 L351.7 1220.4 L351.7 1221 L360.5 1221 L360.5 1238.8 L369.3 1238.8 L369.3 1235.1 L378.1 1235.1 L378.1 1223.6 L386.9 1223.6 L386.9 1243.4 L395.7 1243.4 L395.7 1233 L404.5 1233 L404.5 1241.1 L413.3 1241.1 L413.3 1236.5 L422.1 1236.5 L422.1 1245.7 L430.9 1245.7 L430.9 1242.1 L439.7 1242.1 L439.7 1245.8 L448.5 1245.8 L457.3 1245.8 L457.3 1242.1 L466.1 1242.1 L466.1 1250.2" fill="none" stroke="#0072B2" stroke-width="1.5" stroke-dasharray="5.5 2.4"/>
<rect x="109.4" y="936.3" width="551.8" height="313.9" fill="none" stroke="#1a1a1a" stroke-width="1.4"/>
<line x1="109.4" y1="1250.2" x2="109.4" y2="1263.2" stroke="#1a1a1a" stroke-width="1.4"/>
<text x="109.4" y="1290.4" font-size="31.6" text-anchor="middle" fill="#111" textLength="42.4" lengthAdjust="spacingAndGlyphs">5.5</text>
<line x1="293.3" y1="1250.2" x2="293.3" y2="1263.2" stroke="#1a1a1a" stroke-width="1.4"/>
<text x="293.3" y="1290.4" font-size="31.6" text-anchor="middle" fill="#111" textLength="42.4" lengthAdjust="spacingAndGlyphs">6.0</text>
<line x1="477.3" y1="1250.2" x2="477.3" y2="1263.2" stroke="#1a1a1a" stroke-width="1.4"/>
<text x="477.3" y="1290.4" font-size="31.6" text-anchor="middle" fill="#111" textLength="42.4" lengthAdjust="spacingAndGlyphs">6.5</text>
<line x1="661.2" y1="1250.2" x2="661.2" y2="1263.2" stroke="#1a1a1a" stroke-width="1.4"/>
<text x="661.2" y="1290.4" font-size="31.6" text-anchor="middle" fill="#111" textLength="42.4" lengthAdjust="spacingAndGlyphs">7.0</text>
<line x1="96.4" y1="1250.2" x2="109.4" y2="1250.2" stroke="#1a1a1a" stroke-width="1.4"/>
<text x="91.2" y="1262.2" font-size="31.6" text-anchor="end" fill="#111" textLength="42.4" lengthAdjust="spacingAndGlyphs">0.0</text>
<line x1="96.4" y1="1155.2" x2="109.4" y2="1155.2" stroke="#1a1a1a" stroke-width="1.4"/>
<text x="91.2" y="1167.2" font-size="31.6" text-anchor="end" fill="#111" textLength="42.4" lengthAdjust="spacingAndGlyphs">0.1</text>
<line x1="96.4" y1="1060.2" x2="109.4" y2="1060.2" stroke="#1a1a1a" stroke-width="1.4"/>
<text x="91.2" y="1072.2" font-size="31.6" text-anchor="end" fill="#111" textLength="42.4" lengthAdjust="spacingAndGlyphs">0.2</text>
<line x1="96.4" y1="965.2" x2="109.4" y2="965.2" stroke="#1a1a1a" stroke-width="1.4"/>
<text x="91.2" y="977.2" font-size="31.6" text-anchor="end" fill="#111" textLength="42.4" lengthAdjust="spacingAndGlyphs">0.3</text>
<text x="385.3" y="928.4" font-size="39" text-anchor="middle" fill="#111" textLength="392" lengthAdjust="spacingAndGlyphs">RCP 2.6, static, M<tspan font-size="27" font-style="italic" dy="6">w</tspan><tspan dy="-6"> 9.0</tspan></text>
<text x="385.3" y="1325.8" font-size="31" text-anchor="middle" fill="#111" textLength="135.5" lengthAdjust="spacingAndGlyphs">Runup [m]</text>
<text transform="translate(37.4 1093.2) rotate(-90)" x="0" y="0" font-size="31" text-anchor="middle" fill="#111" textLength="97" lengthAdjust="spacingAndGlyphs">Density</text>
<text x="16.6" y="927.2" font-size="30" font-weight="bold" fill="#000" style="stroke:none">E</text>
<path d="M896 1250.2 L896 1123.8 L905.3 1123.8 L905.3 1130.8 L914.5 1130.8 L914.5 1126 L923.8 1126 L923.8 1045.7 L933.1 1045.7 L933.1 1085.4 L942.3 1085.4 L942.3 1079.9 L951.6 1079.9 L951.6 1096.7 L960.8 1096.7 L960.8 952.6 L970.1 952.6 L970.1 1082.3 L979.4 1082.3 L979.4 1057.5 L988.6 1057.5 L988.6 1165 L997.9 1165 L997.9 1186.9 L1007.2 1186.9 L1007.2 1172.5 L1016.4 1172.5 L1016.4 1223.3 L1025.7 1223.3 L1025.7 1225.7 L1035 1225.7 L1035 1211.2 L1044.2 1211.2 L1044.2 1240.6 L1053.5 1240.6 L1053.5 1249 L1062.8 1249 L1062.8 1247 L1072 1247 L1072 1250.2 L1081.3 1250.2 L1090.5 1250.2 L1099.8 1250.2 L1109.1 1250.2 L1118.3 1250.2 L1118.3 1245.8 L1127.6 1245.8 L1127.6 1250.2 L1136.9 1250.2 L1146.1 1250.2 L1155.4 1250.2 L1164.7 1250.2 L1173.9 1250.2 L1183.2 1250.2 L1192.4 1250.2 L1201.7 1250.2 L1211 1250.2 L1220.2 1250.2 L1229.5 1250.2 L1238.8 1250.2 L1238.8 1246 L1248 1246 L1248 1250.2 L1257.3 1250.2 L1266.6 1250.2 L1275.8 1250.2 L1285.1 1250.2 L1294.4 1250.2 L1294.4 1243.3 L1303.6 1243.3 L1303.6 1250.2" fill="none" stroke="#E69F00" stroke-width="1.5"/>
<path d="M896 1250.2 L896 1126.3 L905.3 1126.3 L905.3 1092.1 L914.5 1092.1 L914.5 1126 L923.8 1126 L923.8 1111.9 L933.1 1111.9 L942.3 1111.9 L942.3 1128.6 L951.6 1128.6 L951.6 1050.8 L960.8 1050.8 L960.8 950.9 L970.1 950.9 L970.1 1077.6 L979.4 1077.6 L979.4 1070.6 L988.6 1070.6 L988.6 1114 L997.9 1114 L997.9 1177.6 L1007.2 1177.6 L1007.2 1180 L1016.4 1180 L1016.4 1214 L1025.7 1214 L1035 1214 L1035 1228.5 L1044.2 1228.5 L1044.2 1235.9 L1053.5 1235.9 L1053.5 1249 L1062.8 1249 L1062.8 1246 L1072 1246 L1072 1250.2 L1081.3 1250.2 L1090.5 1250.2 L1099.8 1250.2 L1099.8 1247 L1109.1 1247 L1109.1 1250.2" fill="none" stroke="#E69F00" stroke-width="1.5" stroke-dasharray="5.5 2.4"/>
<path d="M896 1250.2 L896 1119.3 L905.3 1119.3 L905.3 1170.7 L914.5 1170.7 L914.5 1157.6 L923.8 1157.6 L923.8 1142.3 L933.1 1142.3 L933.1 1085.4 L942.3 1085.4 L942.3 1114.2 L951.6 1114.2 L951.6 1052.4 L960.8 1052.4 L960.8 1060 L970.1 1060 L970.1 1144.3 L979.4 1144.3 L979.4 1114 L988.6 1114 L988.6 1160.3 L997.9 1160.3 L997.9 1106.5 L1007.2 1106.5 L1007.2 1206.5 L1016.4 1206.5 L1016.4 1142.3 L1025.7 1142.3 L1025.7 1175.3 L1035 1175.3 L1035 1199.1 L1044.2 1199.1 L1044.2 1196.3 L1053.5 1196.3 L1053.5 1237.3 L1062.8 1237.3 L1062.8 1240.1 L1072 1240.1 L1072 1235 L1081.3 1235 L1081.3 1246 L1090.5 1246 L1099.8 1246 L1099.8 1246.3 L1109.1 1246.3 L1109.1 1237.7 L1118.3 1237.7 L1118.3 1239.8 L1127.6 1239.8 L1127.6 1243.1 L1136.9 1243.1 L1136.9 1250.2 L1146.1 1250.2 L1155.4 1250.2 L1164.7 1250.2 L1173.9 1250.2 L1183.2 1250.2 L1192.4 1250.2 L1201.7 1250.2 L1211 1250.2 L1220.2 1250.2 L1229.5 1250.2 L1238.8 1250.2 L1248 1250.2 L1257.3 1250.2 L1266.6 1250.2 L1275.8 1250.2 L1275.8 1245.8 L1285.1 1245.8 L1285.1 1250.2 L1294.4 1250.2 L1303.6 1250.2 L1303.6 1225 L1312.9 1225 L1312.9 1250.2" fill="none" stroke="#009E73" stroke-width="1.5"/>
<path d="M896 1250.2 L896 1175.4 L905.3 1175.4 L905.3 1187.3 L914.5 1187.3 L914.5 1133.7 L923.8 1133.7 L923.8 1142 L933.1 1142 L933.1 1090.2 L942.3 1090.2 L942.3 1112.9 L951.6 1112.9 L951.6 1096.7 L960.8 1096.7 L960.8 1031.9 L970.1 1031.9 L970.1 1041.7 L979.4 1041.7 L979.4 1150.9 L988.6 1150.9 L988.6 1151 L997.9 1151 L997.9 1119.6 L1007.2 1119.6 L1007.2 1160.3 L1016.4 1160.3 L1016.4 1136.4 L1025.7 1136.4 L1025.7 1189.7 L1035 1189.7 L1035 1194.4 L1044.2 1194.4 L1044.2 1211.7 L1053.5 1211.7 L1053.5 1230.8 L1062.8 1230.8 L1062.8 1242 L1072 1242 L1072 1238.3 L1081.3 1238.3 L1081.3 1248 L1090.5 1248 L1090.5 1250.2 L1099.8 1250.2 L1109.1 1250.2 L1109.1 1245 L1118.3 1245 L1118.3 1242.5 L1127.6 1242.5 L1127.6 1250.2 L1136.9 1250.2 L1146.1 1250.2 L1155.4 1250.2 L1164.7 1250.2 L1173.9 1250.2 L1183.2 1250.2 L1192.4 1250.2 L1201.7 1250.2 L1211 1250.2 L1220.2 1250.2 L1229.5 1250.2 L1238.8 1250.2 L1248 1250.2 L1248 1246 L1257.3 1246 L1257.3 1250.2 L1266.6 1250.2 L1275.8 1250.2 L1285.1 1250.2 L1294.4 1250.2 L1303.6 1250.2 L1303.6 1225.5 L1312.9 1225.5 L1312.9 1250.2" fill="none" stroke="#009E73" stroke-width="1.5" stroke-dasharray="5.5 2.4"/>
<path d="M896 1250.2 L896 1182.5 L905.3 1182.5 L905.3 1223.6 L914.5 1223.6 L914.5 1187.3 L923.8 1187.3 L923.8 1145.8 L933.1 1145.8 L933.1 1163.1 L942.3 1163.1 L942.3 1143.6 L951.6 1143.6 L951.6 1017 L960.8 1017 L960.8 1007.2 L970.1 1007.2 L970.1 1072.9 L979.4 1072.9 L979.4 1075.3 L988.6 1075.3 L988.6 1143.5 L997.9 1143.5 L997.9 1131 L1007.2 1131 L1007.2 1092.5 L1016.4 1092.5 L1016.4 1124.3 L1025.7 1124.3 L1025.7 1172.9 L1035 1172.9 L1035 1185.1 L1044.2 1185.1 L1044.2 1216.3 L1053.5 1216.3 L1053.5 1245.7 L1062.8 1245.7 L1062.8 1243.4 L1072 1243.4 L1072 1246 L1081.3 1246 L1081.3 1247 L1090.5 1247 L1090.5 1243.6 L1099.8 1243.6 L1099.8 1247 L1109.1 1247 L1118.3 1247 L1118.3 1240.7 L1127.6 1240.7 L1127.6 1246.3 L1136.9 1246.3 L1136.9 1248 L1146.1 1248 L1155.4 1248 L1155.4 1250.2 L1164.7 1250.2 L1164.7 1248 L1173.9 1248 L1183.2 1248 L1183.2 1250.2 L1192.4 1250.2 L1192.4 1248 L1201.7 1248 L1201.7 1250.2 L1211 1250.2 L1211 1248 L1220.2 1248 L1220.2 1250.2 L1229.5 1250.2 L1238.8 1250.2 L1238.8 1248 L1248 1248 L1248 1250.2 L1257.3 1250.2 L1257.3 1248 L1266.6 1248 L1266.6 1246 L1275.8 1246 L1275.8 1250.2 L1285.1 1250.2 L1294.4 1250.2 L1303.6 1250.2 L1312.9 1250.2 L1312.9 1245.8 L1322.1 1245.8 L1322.1 1245.5 L1331.4 1245.5 L1331.4 1243.3 L1340.7 1243.3 L1340.7 1240.6 L1349.9 1240.6 L1349.9 1248.1 L1359.2 1248.1 L1359.2 1250.2" fill="none" stroke="#0072B2" stroke-width="1.5"/>
<path d="M896 1250.2 L896 1211.6 L905.3 1211.6 L905.3 1206.6 L914.5 1206.6 L914.5 1175.4 L923.8 1175.4 L923.8 1163.4 L933.1 1163.4 L933.1 1139.1 L942.3 1139.1 L942.3 1104.9 L951.6 1104.9 L951.6 1041.7 L960.8 1041.7 L960.8 966.4 L970.1 966.4 L970.1 1030 L979.4 1030 L979.4 1119.6 L988.6 1119.6 L988.6 1136.5 L997.9 1136.5 L997.9 1186.9 L1007.2 1186.9 L1007.2 1185 L1016.4 1185 L1016.4 1153.5 L1025.7 1153.5 L1025.7 1116.8 L1035 1116.8 L1035 1210 L1044.2 1210 L1044.2 1221 L1053.5 1221 L1053.5 1241.1 L1062.8 1241.1 L1062.8 1244 L1072 1244 L1072 1245 L1081.3 1245 L1081.3 1247 L1090.5 1247 L1099.8 1247 L1099.8 1250.2 L1109.1 1250.2 L1109.1 1240.9 L1118.3 1240.9 L1118.3 1250.2 L1127.6 1250.2 L1127.6 1247 L1136.9 1247 L1136.9 1248 L1146.1 1248 L1146.1 1250.2 L1155.4 1250.2 L1155.4 1248 L1164.7 1248 L1164.7 1250.2 L1173.9 1250.2 L1173.9 1248 L1183.2 1248 L1183.2 1250.2 L1192.4 1250.2 L1201.7 1250.2 L1201.7 1248 L1211 1248 L1211 1250.2 L1220.2 1250.2 L1229.5 1250.2 L1238.8 1250.2 L1248 1250.2 L1257.3 1250.2 L1266.6 1250.2 L1266.6 1246.5 L1275.8 1246.5 L1275.8 1247 L1285.1 1247 L1285.1 1250.2 L1294.4 1250.2 L1294.4 1248.1 L1303.6 1248.1 L1303.6 1250.2 L1312.9 1250.2 L1322.1 1250.2 L1322.1 1243.3 L1331.4 1243.3 L1331.4 1250.2 L1340.7 1250.2 L1340.7 1243.3 L1349.9 1243.3 L1349.9 1238.5 L1359.2 1238.5 L1359.2 1250.2" fill="none" stroke="#0072B2" stroke-width="1.5" stroke-dasharray="5.5 2.4"/>
<rect x="825.2" y="936.3" width="550.9" height="313.9" fill="none" stroke="#1a1a1a" stroke-width="1.4"/>
<line x1="825.2" y1="1250.2" x2="825.2" y2="1263.2" stroke="#1a1a1a" stroke-width="1.4"/>
<text x="825.2" y="1290.4" font-size="31.6" text-anchor="middle" fill="#111" textLength="17" lengthAdjust="spacingAndGlyphs">0</text>
<line x1="1008.8" y1="1250.2" x2="1008.8" y2="1263.2" stroke="#1a1a1a" stroke-width="1.4"/>
<text x="1008.8" y="1290.4" font-size="31.6" text-anchor="middle" fill="#111" textLength="33.9" lengthAdjust="spacingAndGlyphs">10</text>
<line x1="1192.5" y1="1250.2" x2="1192.5" y2="1263.2" stroke="#1a1a1a" stroke-width="1.4"/>
<text x="1192.5" y="1290.4" font-size="31.6" text-anchor="middle" fill="#111" textLength="33.9" lengthAdjust="spacingAndGlyphs">20</text>
<line x1="1376.1" y1="1250.2" x2="1376.1" y2="1263.2" stroke="#1a1a1a" stroke-width="1.4"/>
<text x="1376.1" y="1290.4" font-size="31.6" text-anchor="middle" fill="#111" textLength="33.9" lengthAdjust="spacingAndGlyphs">30</text>
<line x1="812.2" y1="1250.2" x2="825.2" y2="1250.2" stroke="#1a1a1a" stroke-width="1.4"/>
<text x="807" y="1262.2" font-size="31.6" text-anchor="end" fill="#111" textLength="59.4" lengthAdjust="spacingAndGlyphs">0.00</text>
<line x1="812.2" y1="1148.5" x2="825.2" y2="1148.5" stroke="#1a1a1a" stroke-width="1.4"/>
<text x="807" y="1160.5" font-size="31.6" text-anchor="end" fill="#111" textLength="59.4" lengthAdjust="spacingAndGlyphs">0.05</text>
<line x1="812.2" y1="1046.7" x2="825.2" y2="1046.7" stroke="#1a1a1a" stroke-width="1.4"/>
<text x="807" y="1058.7" font-size="31.6" text-anchor="end" fill="#111" textLength="59.4" lengthAdjust="spacingAndGlyphs">0.10</text>
<line x1="812.2" y1="945" x2="825.2" y2="945" stroke="#1a1a1a" stroke-width="1.4"/>
<text x="807" y="957" font-size="31.6" text-anchor="end" fill="#111" textLength="59.4" lengthAdjust="spacingAndGlyphs">0.15</text>
<text x="1100.7" y="928.4" font-size="39" text-anchor="middle" fill="#111" textLength="435" lengthAdjust="spacingAndGlyphs">RCP 2.6, dynamic, M<tspan font-size="27" font-style="italic" dy="6">w</tspan><tspan dy="-6"> 9.0</tspan></text>
<text x="1100.7" y="1325.8" font-size="31" text-anchor="middle" fill="#111" textLength="135.5" lengthAdjust="spacingAndGlyphs">Runup [m]</text>
<text transform="translate(735.8 1093.2) rotate(-90)" x="0" y="0" font-size="31" text-anchor="middle" fill="#111" textLength="97" lengthAdjust="spacingAndGlyphs">Density</text>
<text x="714" y="927" font-size="30" font-weight="bold" fill="#000" style="stroke:none">F</text>
<line x1="3" y1="1359.4" x2="56" y2="1359.4" stroke="#E69F00" stroke-width="2.5"/>
<line x1="4.5" y1="1393.6" x2="54.5" y2="1393.6" stroke="#E69F00" stroke-width="2.5" stroke-dasharray="9.5 4.7"/>
<text x="73.8" y="1368.2" font-size="23" class="leg" fill="#111" textLength="108" lengthAdjust="spacingAndGlyphs">K14, 2025</text>
<text x="73.8" y="1402.1" font-size="23" class="leg" fill="#111" textLength="108" lengthAdjust="spacingAndGlyphs">K17, 2025</text>
<line x1="231.2" y1="1359.4" x2="284.2" y2="1359.4" stroke="#009E73" stroke-width="2.5"/>
<line x1="232.7" y1="1393.6" x2="282.7" y2="1393.6" stroke="#009E73" stroke-width="2.5" stroke-dasharray="9.5 4.7"/>
<text x="302" y="1368.2" font-size="23" class="leg" fill="#111" textLength="108" lengthAdjust="spacingAndGlyphs">K14, 2050</text>
<text x="302" y="1402.1" font-size="23" class="leg" fill="#111" textLength="108" lengthAdjust="spacingAndGlyphs">K17, 2050</text>
<line x1="459.4" y1="1359.4" x2="512.4" y2="1359.4" stroke="#0072B2" stroke-width="2.5"/>
<line x1="460.9" y1="1393.6" x2="510.9" y2="1393.6" stroke="#0072B2" stroke-width="2.5" stroke-dasharray="9.5 4.7"/>
<text x="530.2" y="1368.2" font-size="23" class="leg" fill="#111" textLength="108" lengthAdjust="spacingAndGlyphs">K14, 2100</text>
<text x="530.2" y="1402.1" font-size="23" class="leg" fill="#111" textLength="108" lengthAdjust="spacingAndGlyphs">K17, 2100</text>
</svg></body></html>
